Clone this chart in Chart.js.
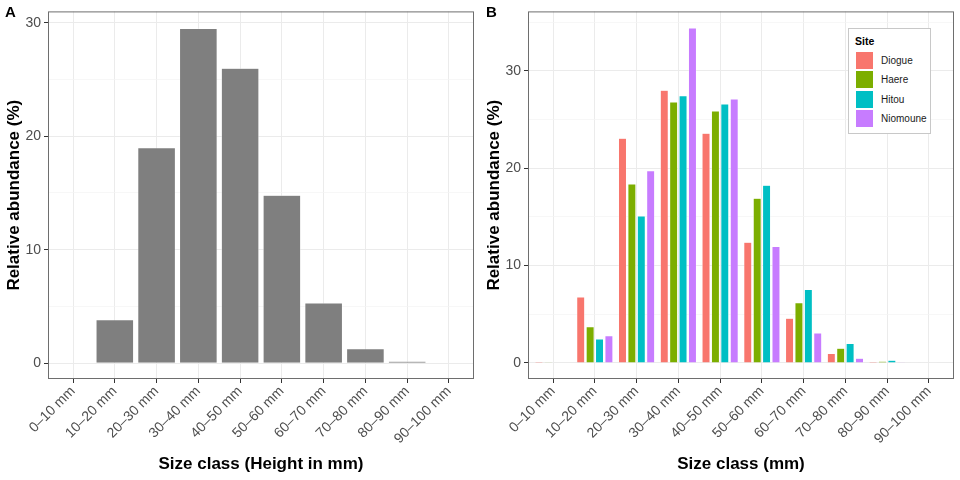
<!DOCTYPE html>
<html>
<head>
<meta charset="utf-8">
<script src="https://cdn.jsdelivr.net/npm/chart.js@4.4.1/dist/chart.umd.min.js"></script>
<style>
  body { margin: 0; background: #fff; }
  #wrap { position: relative; width: 960px; height: 480px; font-family: "Liberation Sans", Arial, sans-serif; }
  .panel { position: absolute; top: 0; width: 480px; height: 480px; }
  .tag { position: absolute; top: 3px; font-weight: bold; font-size: 15px; color: #000; }
  #legend { position: absolute; left: 848px; top: 28px; width: 81px; height: 104px; border: 1px solid #c8c8c8; background: #fff; }
  #legend .ttl { position: absolute; left: 6px; top: 6px; font-weight: bold; font-size: 10.5px; }
  #legend .item { position: absolute; left: 7px; height: 18px; font-size: 10px; color: #1a1a1a; }
  #legend .sw { position: absolute; left: 0; top: 0; width: 17px; height: 17px; }
  #legend .lb { position: absolute; left: 25px; top: 3px; white-space: nowrap; }
</style>
</head>
<body>
<div id="wrap">
  <canvas id="chartA" class="panel" style="left:0" width="480" height="480"></canvas>
  <canvas id="chartB" class="panel" style="left:480px" width="480" height="480"></canvas>
  <div class="tag" style="left:5px">A</div>
  <div class="tag" style="left:486px">B</div>
  <div id="legend"></div>
</div>
<script>
const sizeClasses = ['0–10 mm', '10–20 mm', '20–30 mm', '30–40 mm', '40–50 mm',
                     '50–60 mm', '60–70 mm', '70–80 mm', '80–90 mm', '90–100 mm'];

// panel A: all sites pooled
const overall = [0.05, 3.82, 18.98, 29.5, 26.0, 14.8, 5.3, 1.27, 0.17, 0.05];

// panel B: per site
const sites = ['Diogue', 'Haere', 'Hitou', 'Niomoune'];
const diogue   = [0.12, 6.76, 23.07, 28.0, 23.58, 12.4, 4.6, 0.98, 0.13, 0.06];
const haere    = [0.08, 3.72, 18.38, 26.8, 25.88, 16.9, 6.18, 1.52, 0.17, 0.06];
const hitou    = [0.05, 2.47, 15.1, 27.43, 26.6, 18.24, 7.53, 1.99, 0.27, 0.06];
const niomoune = [0.04, 2.8, 19.73, 34.4, 27.1, 11.96, 3.07, 0.47, 0.07, 0.0];
const siteColors = ['#F8766D', '#7CAE00', '#00BFC4', '#C77CFF'];

const majorTicks = [0, 10, 20, 30];
const minorTicksA = [5, 15, 25];
const minorTicksB = [5, 15, 25, 35];

Chart.defaults.font.family = '"Liberation Sans", Arial, sans-serif';
Chart.defaults.animation = false;

// full panel border like theme_bw
const panelBorder = {
  id: 'panelBorder',
  afterDraw(chart) {
    const a = chart.chartArea, c = chart.ctx;
    c.save();
    c.strokeStyle = '#6e6e6e';
    c.lineWidth = 1;
    c.strokeRect(a.left + 0.5, a.top + 0.5, a.right - a.left - 1, a.bottom - a.top - 1);
    c.restore();
  }
};

function toPoints(vals) {
  return vals.map((v, i) => ({ x: i, y: v }));
}

function makeOptions(yMin, yMax, minor, xTitle, barPct) {
  return {
    responsive: false,
    devicePixelRatio: 1,
    layout: { padding: { top: 6, right: 6, left: 0, bottom: 0 } },
    plugins: { legend: { display: false }, tooltip: { enabled: false } },
    datasets: { bar: { categoryPercentage: 0.9, barPercentage: barPct } },
    scales: {
      x: {
        type: 'linear',
        min: -0.6,
        max: 9.6,
        offset: false,
        afterBuildTicks: s => { s.ticks = sizeClasses.map((c, i) => ({ value: i })); },
        afterFit: s => { s.height = 101; },
        ticks: {
          autoSkip: false,
          minRotation: 45,
          maxRotation: 45,
          color: '#4d4d4d',
          font: { size: 14 },
          padding: 0,
          callback: v => sizeClasses[v]
        },
        grid: { color: '#ebebeb', tickColor: '#333', tickLength: 4, offset: false },
        border: { display: false },
        title: { display: true, text: xTitle, color: '#000', font: { size: 17, weight: 'bold' }, padding: { top: 0, bottom: 5 } }
      },
      y: {
        min: yMin,
        max: yMax,
        afterBuildTicks: s => {
          s.ticks = majorTicks.concat(minor).sort((a, b) => a - b).map(v => ({ value: v }));
        },
        afterFit: s => { s.width = 48; },
        ticks: {
          color: '#4d4d4d',
          font: { size: 14 },
          padding: 3,
          callback: v => majorTicks.includes(v) ? String(v) : ''
        },
        grid: {
          color: c => c.tick && majorTicks.includes(c.tick.value) ? '#ebebeb' : '#f3f3f3',
          lineWidth: c => c.tick && majorTicks.includes(c.tick.value) ? 1 : 0.7,
          tickColor: c => c.tick && majorTicks.includes(c.tick.value) ? '#333' : 'rgba(0,0,0,0)',
          tickLength: 4
        },
        border: { display: false },
        title: { display: true, text: 'Relative abundance (%)', color: '#000', font: { size: 17, weight: 'bold' }, padding: { top: 4, bottom: 0 } }
      }
    }
  };
}

new Chart(document.getElementById('chartA'), {
  type: 'bar',
  data: {
    datasets: [{
      label: 'All',
      data: toPoints(overall),
      backgroundColor: '#7f7f7f',
      borderColor: '#ffffff',
      borderWidth: 0.5
    }]
  },
  options: makeOptions(-1.39, 31.0, minorTicksA, 'Size class (Height in mm)', 1.0),
  plugins: [panelBorder]
});

const siteSeries = [diogue, haere, hitou, niomoune];
new Chart(document.getElementById('chartB'), {
  type: 'bar',
  data: {
    datasets: sites.map((s, k) => ({
      label: s,
      data: toPoints(siteSeries[k]),
      backgroundColor: siteColors[k],
      borderColor: '#ffffff',
      borderWidth: 0.5
    }))
  },
  options: makeOptions(-1.65, 36.1, minorTicksB, 'Size class (mm)', 0.85),
  plugins: [panelBorder]
});

// legend box for panel B
const legend = document.getElementById('legend');
legend.innerHTML = '<div class="ttl">Site</div>' + sites.map((s, k) =>
  '<div class="item" style="top:' + (23 + k * 19.3) + 'px"><div class="sw" style="background:' +
  siteColors[k] + '"></div><div class="lb">' + s + '</div></div>').join('');
</script>
</body>
</html>
